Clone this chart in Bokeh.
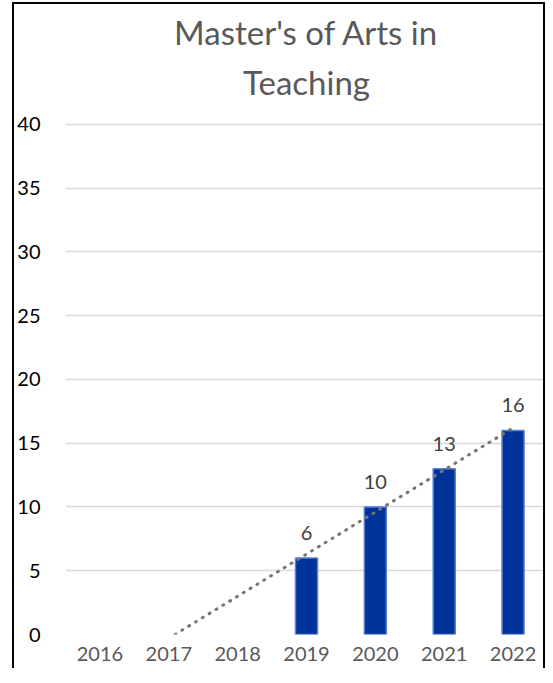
import numpy as np
from bokeh.plotting import figure
from bokeh.models import Title, ColumnDataSource, FactorRange, Range1d, LabelSet
from bokeh.core.properties import value
from bokeh.embed import file_html
from bokeh.resources import INLINE

title_line1 = "Master's of Arts in"
title_line2 = "Teaching"
years = ["2016", "2017", "2018", "2019", "2020", "2021", "2022"]
counts = [None, None, None, 6, 10, 13, 16]
y_ticks = [0, 5, 10, 15, 20, 25, 30, 35, 40]

FONT = "Lato"

p = figure(
    x_range=FactorRange(*years, range_padding=0, factor_padding=0),
    y_range=Range1d(0, 41),
    width=533, height=666,
    output_backend="svg", toolbar_location=None,
    min_border_left=46, min_border_right=0, min_border_bottom=36, min_border_top=107,
    styles={"border-left": "2px solid black", "border-right": "2px solid black",
            "border-top": "2px solid black", "margin-left": "12px", "margin-top": "2px",
            "box-sizing": "border-box"},
)

p.add_layout(Title(text=title_line2, align="center", text_font=FONT, text_font_size="33px",
                   text_font_style="normal", text_color="#595959", standoff=20), "above")
p.add_layout(Title(text=title_line1, align="center", text_font=FONT, text_font_size="33px",
                   text_font_style="normal", text_color="#595959", standoff=-5), "above")

# bars
bx = [y for y, c in zip(years, counts) if c is not None]
by = [c for c in counts if c is not None]
src = ColumnDataSource(dict(x=bx, top=by, lab=[str(v) for v in by]))
p.vbar(x="x", top="top", width=0.32, source=src, fill_color="#003399",
       line_color="#5b80d6", line_width=1.5)

# linear trendline fitted to the plotted values, clipped at 0
idx = np.array([years.index(y) for y in bx], dtype=float)
slope, intercept = np.polyfit(idx, np.array(by, dtype=float), 1)
k0 = -intercept / slope
k1 = len(years) - 1
p.line(x=[float(k0 + 0.5), float(k1 + 0.5)], y=[0.0, float(slope * k1 + intercept)],
       line_color="#767676", line_width=3, line_dash="1 7", line_cap="round")

labels = LabelSet(x="x", y="top", text="lab", source=src, text_align="center",
                  text_baseline="alphabetic", y_offset=18, text_font=value(FONT),
                  text_font_size=value("20px"), text_color=value("#404040"))
p.add_layout(labels)

# axes
p.yaxis.ticker = y_ticks
p.yaxis.axis_line_color = None
p.yaxis.major_tick_line_color = None
p.yaxis.minor_tick_line_color = None
p.yaxis.major_label_text_font = FONT
p.yaxis.major_label_text_font_size = "20px"
p.yaxis.major_label_text_color = "#000000"
p.yaxis.major_label_standoff = 19

p.xaxis.axis_line_color = None
p.xaxis.major_tick_line_color = None
p.xaxis.major_label_text_font = FONT
p.xaxis.major_label_text_font_size = "20px"
p.xaxis.major_label_text_color = "#595959"
p.xaxis.major_label_standoff = 6

p.xgrid.grid_line_color = None
p.ygrid.grid_line_color = "#d9d9d9"
p.ygrid.grid_line_width = 1.5
p.outline_line_color = None
p.background_fill_color = "white"
p.border_fill_color = "white"

open("out.html", "w").write(file_html(p, INLINE))
